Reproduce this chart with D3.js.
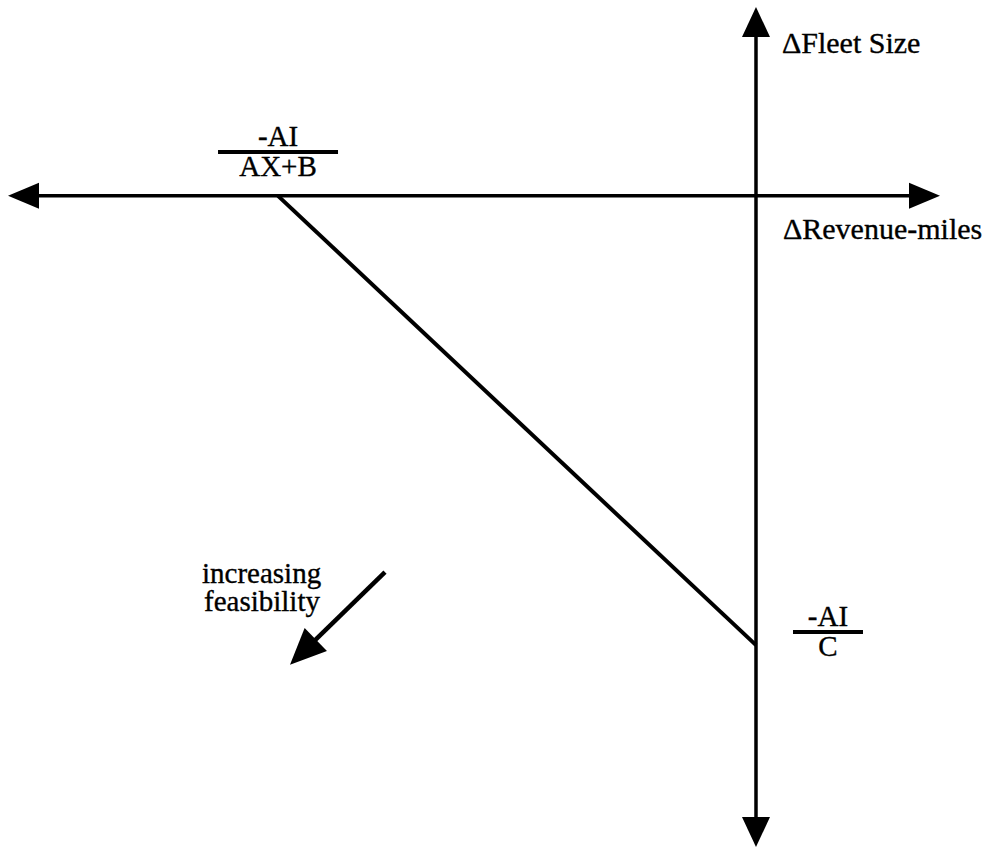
<!DOCTYPE html>
<html>
<head>
<meta charset="utf-8">
<script src="https://cdn.jsdelivr.net/npm/d3@7"></script>
</head>
<body style="margin:0;background:#fff;font-family:'Liberation Serif'">
<svg id="chart" width="991" height="850" font-family="Liberation Serif"></svg>
<script>
// axis extents (data units, origin at 0,0)
const xExtent = [-1, 0.246];
const yExtent = [-1, 0.29];
// constraint line: x intercept -AI/(AX+B), y intercept -AI/C
const constraint = [{ x: -0.639, y: 0 }, { x: 0, y: -0.69 }];
// "increasing feasibility" arrow
const feasArrow = [{ x: -0.496, y: -0.578 }, { x: -0.623, y: -0.72 }];
const axisLabels = ['\u0394Fleet Size', '\u0394Revenue-miles'];
const xLabel = { num: '-AI', den: 'AX+B' };
const yLabel = { num: '-AI', den: 'C' };
const feasText = ['increasing', 'feasibility'];

const svg = d3.select('#chart');
const x = d3.scaleLinear().domain(xExtent).range([8, 940]);
const y = d3.scaleLinear().domain(yExtent).range([847, 7]);

function label(txt, px, py, size, anchor) {
  return svg.append('text').text(txt)
    .attr('x', px).attr('y', py)
    .attr('text-anchor', anchor || 'start')
    .attr('font-family', 'Liberation Serif')
    .style('font-family', '"Liberation Serif"')
    .attr('font-size', size)
    .attr('fill', '#000')
    .attr('stroke', '#000')
    .attr('stroke-width', 0.35);
}

// line from p0 to p1 with a filled triangle head at p1 (and at p0 if both)
function arrow(p0, p1, width, len, half, both) {
  const dx = p1[0] - p0[0], dy = p1[1] - p0[1];
  const d = Math.hypot(dx, dy);
  const ux = dx / d, uy = dy / d;
  const head = (tip, sx, sy) => {
    const bx = tip[0] - sx * len, by = tip[1] - sy * len;
    svg.append('path')
      .attr('d', d3.line()([[tip[0], tip[1]], [bx - sy * half, by + sx * half], [bx + sy * half, by - sx * half]]) + 'Z')
      .attr('fill', '#000');
    return [bx, by];
  };
  const e1 = head(p1, ux, uy);
  const e0 = both ? head(p0, -ux, -uy) : p0;
  svg.append('line')
    .attr('x1', e0[0]).attr('y1', e0[1])
    .attr('x2', e1[0] + ux * 2).attr('y2', e1[1] + uy * 2)
    .attr('stroke', '#000').attr('stroke-width', width);
}

// labels first
label(axisLabels[0], x(0) + 26, 53, 30);
label(axisLabels[1], x(0) + 27, y(0) + 43, 30);

// axes
arrow([x(xExtent[0]), y(0)], [x(xExtent[1]), y(0)], 3.5, 31, 13, true);
arrow([x(0), y(yExtent[1])], [x(0), y(yExtent[0])], 3.5, 30, 14, true);

// constraint line
svg.append('path')
  .datum(constraint)
  .attr('d', d3.line().x((d) => x(d.x)).y((d) => y(d.y)))
  .attr('stroke', '#000').attr('stroke-width', 4).attr('fill', 'none');

// feasibility arrow
arrow([x(feasArrow[0].x), y(feasArrow[0].y)], [x(feasArrow[1].x), y(feasArrow[1].y)], 4.5, 36, 16, false);

// fractions
function fraction(cx, lineY, halfW, lab) {
  svg.append('line')
    .attr('x1', cx - halfW).attr('x2', cx + halfW)
    .attr('y1', lineY).attr('y2', lineY)
    .attr('stroke', '#000').attr('stroke-width', 4);
  label(lab.num, cx, lineY - 6, 29, 'middle');
  label(lab.den, cx, lineY + 24, 29, 'middle');
}
fraction(x(constraint[0].x), 152, 60, xLabel);
fraction(x(0) + 72, 632, 35, yLabel);

// feasibility label
feasText.forEach((d, i) => label(d, 202 + i * 2, 583 + i * 28, 29));
</script>
</body>
</html>
